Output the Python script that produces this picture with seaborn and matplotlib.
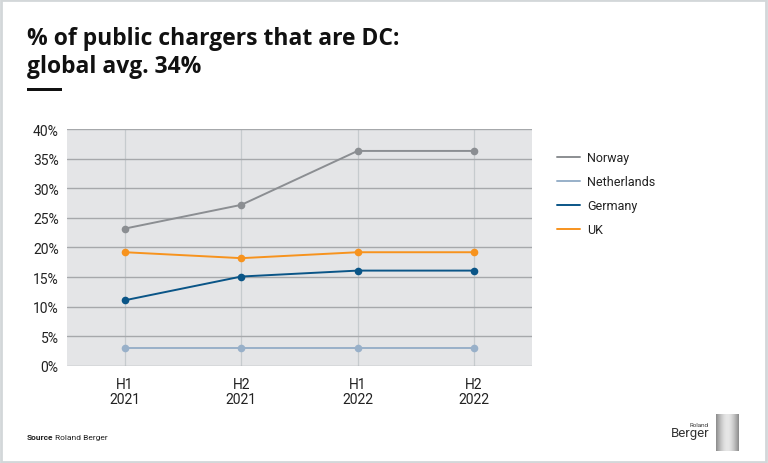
import numpy as np
import pandas as pd
import matplotlib.pyplot as plt
import seaborn as sns
from matplotlib.lines import Line2D
from matplotlib.patches import Rectangle

# Data
periods = ["H1\n2021", "H2\n2021", "H1\n2022", "H2\n2022"]
countries = ["Norway", "Netherlands", "Germany", "UK"]
norway = [23.2, 27.2, 36.3, 36.3]
netherlands = [3.0, 3.0, 3.0, 3.0]
germany = [11.1, 15.1, 16.1, 16.1]
uk = [19.2, 18.2, 19.2, 19.2]
y_ticks = [0, 5, 10, 15, 20, 25, 30, 35, 40]

colors = {
    "Norway": "#8b8e92",
    "Netherlands": "#98b0c9",
    "Germany": "#0a5587",
    "UK": "#f7931e",
}

rows = []
for name, vals in zip(countries, [norway, netherlands, germany, uk]):
    for i, v in enumerate(vals):
        rows.append({"period": i, "country": name, "value": v})
df = pd.DataFrame(rows)

sns.set_theme(style="white")
plt.rcParams["font.family"] = ["Roboto", "DejaVu Sans"]

fig = plt.figure(figsize=(7.68, 4.64), dpi=100)
ax = fig.add_axes([0.0872, 0.2091, 0.6055, 0.5107])
ax.set_facecolor("#e4e5e7")

sns.lineplot(
    data=df, x="period", y="value", hue="country", hue_order=countries,
    palette=colors, marker="o", markersize=5.5, markeredgewidth=0,
    linewidth=1.4, legend=False, ax=ax, zorder=3,
)

ax.set_xlim(-0.5, 3.5)
ax.set_ylim(0, 40)
ax.set_xticks(range(len(periods)))
ax.set_xticklabels(periods, fontsize=10, color="#222222", linespacing=1.1)
ax.set_yticks(y_ticks)
ax.set_yticklabels([f"{t}%" for t in y_ticks], fontsize=10, color="#222222")
ax.tick_params(axis="x", length=0, pad=8)
ax.tick_params(axis="y", length=0, pad=6)
ax.set_xlabel("")
ax.set_ylabel("")

ax.yaxis.grid(True, color="#a6a8ab", linewidth=1.0)
ax.xaxis.grid(True, color="#c6cbce", linewidth=0.9)
ax.set_axisbelow(True)
for s in ax.spines.values():
    s.set_visible(False)

handles = [Line2D([0], [0], color=colors[c], linewidth=1.4) for c in countries]
leg = fig.legend(
    handles, countries, loc="upper left", bbox_to_anchor=(0.710, 0.696),
    frameon=False, fontsize=9, handlelength=1.9, handletextpad=0.55,
    labelspacing=0.88,
)
for t in leg.get_texts():
    t.set_color("#222222")

# Title and accent bar
fig.text(0.035, 1 - 73 / 464, "% of public chargers that are DC:\nglobal avg. 34%",
         fontsize=16.5, fontweight="bold", color="#111111",
         family=["Open Sans", "DejaVu Sans"],
         va="baseline", linespacing=1.2)
fig.add_artist(Rectangle((27 / 768, 1 - 92 / 464), 35 / 768, 3 / 464,
                         transform=fig.transFigure, color="#111111", lw=0))

# Source note
fig.text(0.035, 1 - 440 / 464, "Source", fontsize=6, fontweight="bold",
         color="#222222", va="baseline")
fig.text(0.071, 1 - 440 / 464, "Roland Berger", fontsize=6,
         color="#222222", va="baseline")

# Logo
fig.text(709 / 768, 1 - 427 / 464, "Roland", fontsize=4.5, color="#333333",
         ha="right", va="baseline")
fig.text(709 / 768, 1 - 437 / 464, "Berger", fontsize=9.5, color="#333333",
         ha="right", va="baseline")
lax = fig.add_axes([716 / 768, 1 - 452 / 464, 23 / 768, 37 / 464])
grad = np.abs(np.sin(np.linspace(0, np.pi, 64))) * 0.35 + 0.55
lax.imshow(np.tile(grad, (10, 1)), cmap="gray", vmin=0, vmax=1, aspect="auto")
lax.axis("off")

# Outer frame
fig.add_artist(Rectangle((0.001, 0.002), 0.997, 0.996, transform=fig.transFigure,
                         fill=False, edgecolor="#d3d7d9", linewidth=2))

fig.savefig("out.png", dpi=100, facecolor="white")
